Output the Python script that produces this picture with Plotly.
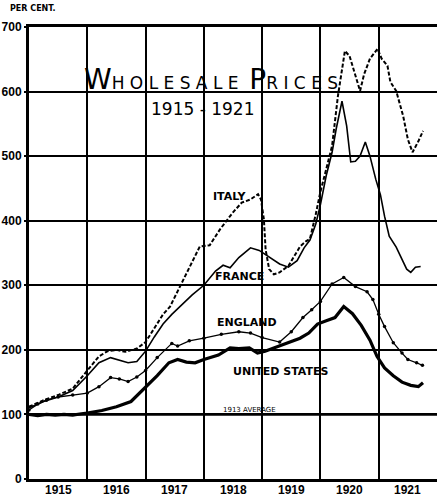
import plotly.graph_objects as go

# ---------------- data (decimal year, per cent of 1913 average) ----------------
us_t = [1915.0, 1915.15, 1915.3, 1915.45, 1915.6, 1915.75, 1915.9, 1916.0, 1916.25, 1916.5,
        1916.75, 1917.0, 1917.2, 1917.4, 1917.55, 1917.7, 1917.85, 1918.0, 1918.25, 1918.45,
        1918.6, 1918.78, 1918.92, 1919.05, 1919.25, 1919.45, 1919.65, 1919.8, 1919.95,
        1920.1, 1920.25, 1920.4, 1920.55, 1920.7, 1920.85, 1920.97, 1921.1, 1921.25,
        1921.4, 1921.55, 1921.68, 1921.76]
us_v = [100, 98, 100, 99, 100, 99, 101, 102, 106, 112,
        120, 142, 160, 180, 185, 181, 180, 185, 192, 203,
        202, 203, 195, 198, 205, 212, 218, 226, 240,
        245, 250, 267, 256, 238, 215, 190, 172, 160,
        150, 145, 143, 149]

eng_t = [1915.0, 1915.15, 1915.3, 1915.5, 1915.75, 1916.0, 1916.2, 1916.4, 1916.55, 1916.7,
         1916.85, 1917.0, 1917.2, 1917.45, 1917.55, 1917.75, 1918.0, 1918.3, 1918.6, 1918.8,
         1919.0, 1919.3, 1919.5, 1919.7, 1919.85, 1920.0, 1920.2, 1920.4, 1920.6, 1920.8,
         1920.9, 1921.0, 1921.1, 1921.25, 1921.4, 1921.5, 1921.65, 1921.75]
eng_v = [107, 116, 122, 127, 130, 133, 143, 157, 155, 151,
         158, 168, 188, 210, 206, 214, 218, 224, 228, 226,
         219, 212, 228, 250, 262, 275, 302, 312, 298, 290,
         278, 255, 236, 211, 195, 185, 180, 176]

fra_t = [1915.0, 1915.25, 1915.5, 1915.75, 1916.0, 1916.2, 1916.4, 1916.55, 1916.7, 1916.85,
         1917.0, 1917.15, 1917.3, 1917.45, 1917.6, 1917.8, 1918.0, 1918.2, 1918.33, 1918.45,
         1918.6, 1918.8, 1918.95, 1919.1, 1919.3, 1919.45, 1919.6, 1919.72, 1919.82, 1919.92,
         1920.0, 1920.1, 1920.2, 1920.27, 1920.37, 1920.45, 1920.52, 1920.6, 1920.68, 1920.77,
         1920.85, 1920.95, 1921.03, 1921.1, 1921.18, 1921.3, 1921.4, 1921.48, 1921.55,
         1921.63, 1921.72]
fra_v = [110, 120, 127, 137, 160, 180, 188, 184, 180, 182,
         198, 220, 240, 255, 268, 285, 300, 322, 331, 327,
         343, 358, 354, 345, 333, 328, 338, 358, 370, 395,
         425, 470, 506, 542, 585, 547, 491, 492, 500, 522,
         500, 464, 440, 407, 376, 359, 340, 325, 320,
         328, 329]

ita_t = [1915.0, 1915.25, 1915.5, 1915.75, 1916.0, 1916.2, 1916.35, 1916.5, 1916.65, 1916.85,
         1917.0, 1917.15, 1917.3, 1917.42, 1917.65, 1917.93, 1918.1, 1918.28, 1918.5, 1918.65,
         1918.8, 1918.93, 1918.98, 1919.03, 1919.06, 1919.12, 1919.2, 1919.3, 1919.45, 1919.55,
         1919.65, 1919.75, 1919.82, 1919.92, 1920.0, 1920.1, 1920.2, 1920.3, 1920.42, 1920.5,
         1920.6, 1920.68, 1920.75, 1920.85, 1920.98, 1921.05, 1921.15, 1921.2, 1921.3, 1921.42,
         1921.5, 1921.58, 1921.68, 1921.76]
ita_v = [112, 122, 130, 140, 168, 190, 198, 200, 197, 202,
         212, 234, 255, 267, 309, 360, 362, 387, 413, 428,
         433, 441, 433, 402, 355, 325, 317, 320, 330, 345,
         360, 368, 372, 410, 445, 480, 516, 593, 663, 655,
         624, 601, 627, 651, 666, 651, 640, 615, 601, 562,
         526, 506, 523, 539]

years = [1915, 1916, 1917, 1918, 1919, 1920, 1921]
year_labels = [str(y) for y in years]
y_ticks = [0, 100, 200, 300, 400, 500, 600, 700]
y_labels = [str(v) for v in y_ticks]

FONT = "DejaVu Sans"
TICKFONT = "Liberation Sans"

fig = go.Figure()
fig.add_trace(go.Scatter(x=ita_t, y=ita_v, mode="lines", name="Italy",
                         line=dict(color="black", width=2, dash="4px,2px")))
fig.add_trace(go.Scatter(x=fra_t, y=fra_v, mode="lines", name="France",
                         line=dict(color="black", width=1.6)))
fig.add_trace(go.Scatter(x=eng_t, y=eng_v, mode="lines+markers", name="England",
                         line=dict(color="black", width=1.3),
                         marker=dict(color="black", size=3.5)))
fig.add_trace(go.Scatter(x=us_t, y=us_v, mode="lines", name="United States",
                         line=dict(color="black", width=3.2)))

# 1913 average reference line
fig.add_shape(type="line", xref="x domain", yref="y", x0=0, x1=1, y0=100, y1=100,
              line=dict(color="black", width=2.6), layer="below")

ann_font = dict(family=FONT, size=11, color="black")
labels = [("ITALY", 1918.45, 437), ("FRANCE", 1918.62, 313),
          ("ENGLAND", 1918.74, 243), ("UNITED STATES", 1919.32, 166)]
for txt, x, y in labels:
    fig.add_annotation(x=x, y=y, text="<b>" + txt + "</b>", showarrow=False, font=ann_font)
fig.add_annotation(x=1918.79, y=107, text="1913 AVERAGE", showarrow=False,
                   font=dict(family=FONT, size=7, color="black"))

# year labels under the axis, centred in each year
for y, s in zip(years, year_labels):
    fig.add_annotation(x=y + 0.5, xref="x", yref="paper", y=0, yanchor="top", yshift=-2,
                       text="<b>" + s + "</b>", showarrow=False,
                       font=dict(family=TICKFONT, size=12, color="black"))

# title inside chart
fig.add_annotation(x=1918.12, y=600, yanchor="bottom", yshift=-6, showarrow=False,
                   text="<span style='font-size:28px'>W</span>H O L E S A L E  "
                        "<span style='font-size:28px'>P</span>R I C E S",
                   font=dict(family=FONT, size=17, color="black"))
fig.add_annotation(x=1917.98, y=573, showarrow=False, text="1915 - 1921",
                   font=dict(family=FONT, size=17, color="black"))
fig.add_annotation(xref="paper", yref="paper", x=-0.052, y=1.0, yshift=12,
                   xanchor="left", yanchor="bottom", showarrow=False,
                   text="<b>PER CENT.</b>", font=dict(family=FONT, size=8, color="black"))

fig.update_layout(
    width=437, height=499,
    margin=dict(l=29, r=0, t=27, b=20),
    paper_bgcolor="white", plot_bgcolor="white",
    showlegend=False,
    xaxis=dict(range=[1915, 1922], tickmode="array", tickvals=years, showticklabels=False,
               showgrid=True, gridcolor="black", gridwidth=2, ticks="", zeroline=False,
               showline=True, linecolor="black", linewidth=2.5, mirror=True,
               automargin=False),
    yaxis=dict(range=[0, 700], tickmode="array", tickvals=y_ticks,
               ticktext=["<b>" + s + "</b>" for s in y_labels],
               showgrid=True, gridcolor="black", gridwidth=1.5, zeroline=False,
               showline=True, linecolor="black", linewidth=3,
               ticks="outside", ticklen=2, tickcolor="black", tickwidth=1.5,
               tickfont=dict(family=TICKFONT, size=12, color="black"), automargin=False),
)

fig.write_html("out.html", config={"displayModeBar": False},
               post_script="document.body.style.margin='0';")
